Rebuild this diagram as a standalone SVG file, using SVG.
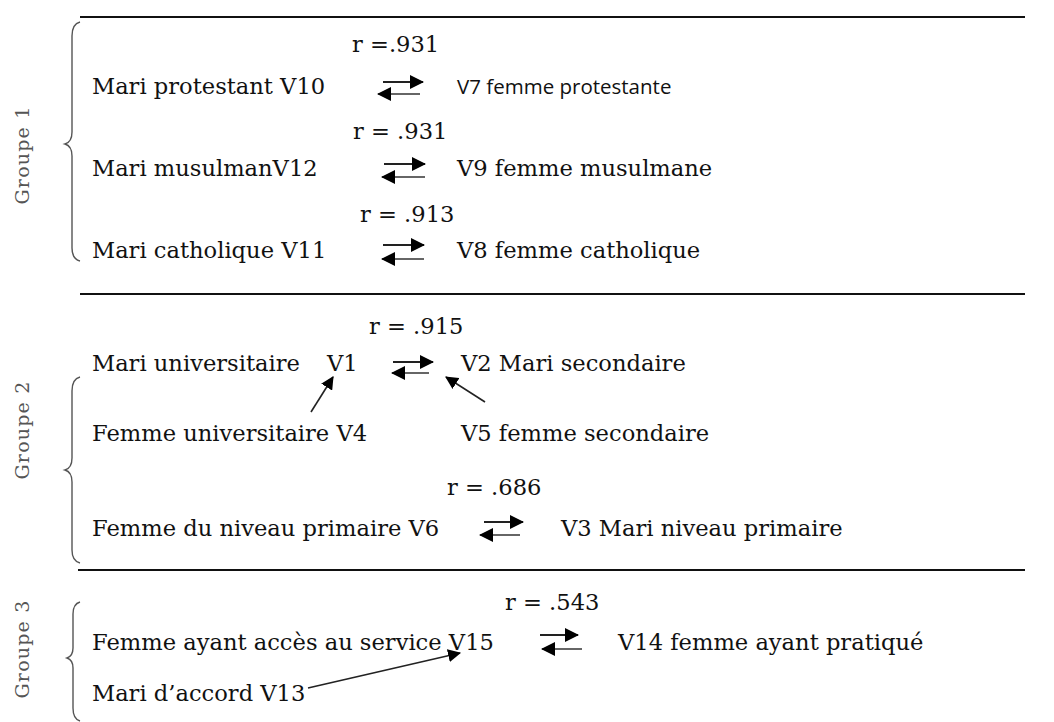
<svg xmlns="http://www.w3.org/2000/svg" width="1054" height="722" viewBox="0 0 1054 722">
<defs>
<marker id="ah" viewBox="0 0 14 14" refX="13" refY="7" markerWidth="15" markerHeight="14" markerUnits="userSpaceOnUse" orient="auto">
<path d="M0,0 L14,7 L0,14 Z" fill="#000"/>
</marker>
<marker id="ahs" viewBox="0 0 12 12" refX="11" refY="6" markerWidth="13" markerHeight="13" markerUnits="userSpaceOnUse" orient="auto">
<path d="M0,0 L12,6 L0,12 Z" fill="#000"/>
</marker>
<style>
.t{font-family:"DejaVu Serif","Liberation Serif",serif;font-size:22.6px;fill:#111}
.s{font-family:"Open Sans","Noto Sans",sans-serif;font-size:20.5px;fill:#111}
.g{font-family:"DejaVu Serif","Liberation Serif",serif;font-size:19px;fill:#555;letter-spacing:1.2px}
.sep{stroke:#111;stroke-width:2;fill:none}
.br{stroke:#555;stroke-width:1.4;fill:none}
.ar{stroke:#222;stroke-width:2.2;fill:none;marker-end:url(#ah)}
.al{stroke:#666;stroke-width:2.2;fill:none;marker-end:url(#ah)}
.ad{stroke:#222;stroke-width:1.6;fill:none;marker-end:url(#ahs)}
</style>
</defs>
<rect width="1054" height="722" fill="#fff"/>
<g id="separators">
<line class="sep" x1="80" y1="17" x2="1025" y2="17"/>
<line class="sep" x1="80" y1="294" x2="1025" y2="294"/>
<line class="sep" x1="78" y1="570" x2="1025" y2="570"/>
</g>
<g id="groupe1">
<path class="br" d="M80,22 Q72,24 72,36 L72,132 Q72,142 65,144 Q72,146 72,156 L72,248 Q72,259 80,261"/>
<text class="g" transform="translate(29,155) rotate(-90)" text-anchor="middle">Groupe 1</text>
</g>
<g id="groupe2">
<path class="br" d="M80,377 Q72,379 72,391 L72,458 Q72,468 65,470 Q72,472 72,482 L72,550 Q72,561 80,563"/>
<text class="g" transform="translate(29,430) rotate(-90)" text-anchor="middle">Groupe 2</text>
</g>
<g id="groupe3">
<path class="br" d="M80,602 Q73,604 73,614 L73,648 Q73,656 67,658 Q73,660 73,668 L73,708 Q73,719 80,721"/>
<text class="g" transform="translate(29,649) rotate(-90)" text-anchor="middle">Groupe 3</text>
</g>
<g id="n-r1"><text class="t" x="352" y="52">r =.931</text></g>
<g id="n-v10"><text class="t" x="92" y="94">Mari protestant V10</text></g>
<g id="n-v7"><text class="s" x="457" y="94">V7 femme protestante</text></g>
<g id="n-r2"><text class="t" x="353" y="139">r = .931</text></g>
<g id="n-v12"><text class="t" x="92" y="176">Mari musulmanV12</text></g>
<g id="n-v9"><text class="t" x="457" y="176">V9 femme musulmane</text></g>
<g id="n-r3"><text class="t" x="360" y="222">r = .913</text></g>
<g id="n-v11"><text class="t" x="92" y="258">Mari catholique V11</text></g>
<g id="n-v8"><text class="t" x="457" y="258">V8 femme catholique</text></g>
<g id="n-r4"><text class="t" x="369" y="334">r = .915</text></g>
<g id="n-v1"><text class="t" x="92" y="371">Mari universitaire</text><text class="t" x="327" y="371">V1</text></g>
<g id="n-v2"><text class="t" x="461" y="371">V2 Mari secondaire</text></g>
<g id="n-v4"><text class="t" x="92" y="441">Femme universitaire V4</text></g>
<g id="n-v5"><text class="t" x="461" y="441">V5 femme secondaire</text></g>
<g id="n-r5"><text class="t" x="447" y="495">r = .686</text></g>
<g id="n-v6"><text class="t" x="92" y="536">Femme du niveau primaire V6</text></g>
<g id="n-v3"><text class="t" x="561" y="536">V3 Mari niveau primaire</text></g>
<g id="n-r6"><text class="t" x="505" y="610">r = .543</text></g>
<g id="n-v15"><text class="t" x="92" y="650">Femme ayant accès au service V15</text></g>
<g id="n-v14"><text class="t" x="618" y="650">V14 femme ayant pratiqué</text></g>
<g id="n-v13"><text class="t" x="92" y="701">Mari d’accord V13</text></g>
<g id="connectors">
<line class="ar" x1="383" y1="82" x2="423" y2="82"/>
<line class="al" x1="420" y1="94" x2="378" y2="94"/>
<line class="ar" x1="384" y1="164" x2="425" y2="164"/>
<line class="al" x1="425" y1="177" x2="382" y2="177"/>
<line class="ar" x1="383" y1="245" x2="424" y2="245"/>
<line class="al" x1="424" y1="259" x2="382" y2="259"/>
<line class="ar" x1="393" y1="362" x2="433" y2="362"/>
<line class="al" x1="429" y1="373" x2="392" y2="373"/>
<line class="ad" x1="311" y1="412" x2="333" y2="377"/>
<line class="ad" x1="485" y1="402" x2="446" y2="377"/>
<line class="ar" x1="484" y1="522" x2="523" y2="522"/>
<line class="al" x1="520" y1="535" x2="480" y2="535"/>
<line class="ar" x1="540" y1="635" x2="578" y2="635"/>
<line class="al" x1="582" y1="649" x2="542" y2="649"/>
<line class="ad" x1="308" y1="688" x2="460" y2="653"/>
</g>
</svg>
